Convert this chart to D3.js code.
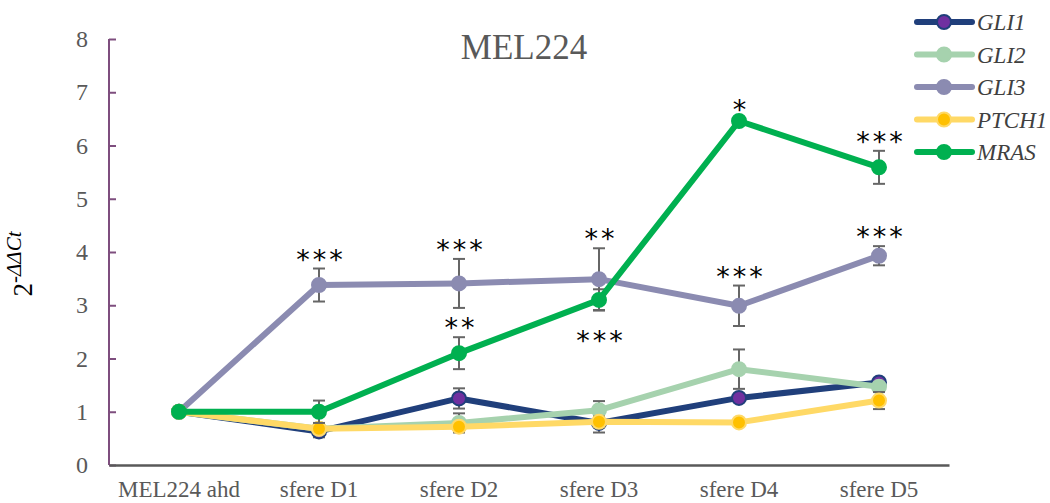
<!DOCTYPE html>
<html><head><meta charset="utf-8">
<script src="https://cdn.jsdelivr.net/npm/d3@7"></script>
<style>body{margin:0;background:#fff}svg{display:block}</style>
</head><body>
<script>
const categories = ["MEL224 ahd","sfere D1","sfere D2","sfere D3","sfere D4","sfere D5"];
const seriesNames = ["GLI1","GLI2","GLI3","PTCH1","MRAS"];
const gli1  = [1, 0.63, 1.25, 0.79, 1.26, 1.55];
const gli2  = [1, 0.68, 0.79, 1.03, 1.80, 1.47];
const gli3  = [1, 3.38, 3.41, 3.49, 2.99, 3.93];
const ptch1 = [1, 0.68, 0.72, 0.81, 0.80, 1.21];
const mras  = [1, 1.00, 2.10, 3.10, 6.46, 5.59];
const gli1Err  = [0, 0.11, 0.19, 0.18, 0.05, 0.05];
const gli2Err  = [0, 0.05, 0.18, 0.17, 0.37, 0.05];
const gli3Err  = [0, 0.31, 0.46, 0.58, 0.38, 0.18];
const ptch1Err = [0, 0.05, 0.05, 0.10, 0.03, 0.16];
const mrasErr  = [0, 0.21, 0.30, 0.20, 0.03, 0.31];
const yTicks = [0,1,2,3,4,5,6,7,8];
// significance marks: series, category index, label, side
const stars = [
  {s:"GLI3", i:1, t:"***", side:"above"},
  {s:"GLI3", i:2, t:"***", side:"above"},
  {s:"GLI3", i:3, t:"**",  side:"above"},
  {s:"GLI3", i:4, t:"***", side:"above"},
  {s:"GLI3", i:5, t:"***", side:"above"},
  {s:"MRAS", i:2, t:"**",  side:"above"},
  {s:"MRAS", i:3, t:"***", side:"below"},
  {s:"MRAS", i:4, t:"*",   side:"above"},
  {s:"MRAS", i:5, t:"***", side:"above"}
];

const styles = {
  GLI1:  {line:"#203F7B", fill:"#7030A0", stroke:"#203F7B"},
  GLI2:  {line:"#A6D2AE", fill:"#A6D2AE", stroke:"#A6D2AE"},
  GLI3:  {line:"#8B8BB1", fill:"#8B8BB1", stroke:"#8B8BB1"},
  PTCH1: {line:"#FFD966", fill:"#FFC000", stroke:"#FFD966"},
  MRAS:  {line:"#00B050", fill:"#00B050", stroke:"#00B050"}
};
const values = {GLI1:gli1, GLI2:gli2, GLI3:gli3, PTCH1:ptch1, MRAS:mras};
const errors = {GLI1:gli1Err, GLI2:gli2Err, GLI3:gli3Err, PTCH1:ptch1Err, MRAS:mrasErr};

const W = 1050, H = 503;
const svg = d3.select("body").append("svg").attr("width", W).attr("height", H);
const x = d3.scaleBand().domain(categories).range([109, 949]).padding(0);
const y = d3.scaleLinear().domain([0, 8]).range([465, 39]);
const cx = c => x(c) + x.bandwidth()/2;
const serif = "'Liberation Serif','Times New Roman',serif";

// title
svg.append("text").attr("x", 524).attr("y", 59).attr("text-anchor","middle")
  .attr("font-family", serif).attr("font-size", 35).attr("fill","#595959").text("MEL224");

// y axis
const yAxis = svg.append("g").attr("transform","translate(109,0)")
  .call(d3.axisRight(y).tickValues(yTicks).tickSize(7).tickFormat(""));
yAxis.select(".domain").attr("stroke","#7E4E7E").attr("stroke-width",2).attr("d","M0,39V465");
yAxis.selectAll(".tick line").attr("stroke","#7E4E7E").attr("stroke-width",2);
svg.selectAll(".ytl").data(yTicks).enter().append("text")
  .attr("x", 88).attr("y", d => y(d) + 8).attr("text-anchor","end")
  .attr("font-family", serif).attr("font-size", 24).attr("fill","#595959").text(d => d);

// x axis
const xAxis = svg.append("g").attr("transform","translate(0,465)")
  .call(d3.axisBottom(x).tickSize(0).tickPadding(32));
xAxis.select(".domain").attr("stroke","#595959").attr("stroke-width",2.5);
xAxis.selectAll("text").attr("dy","0").attr("font-family", serif).attr("font-size", 23).attr("fill","#595959");

// y label
const yl = svg.append("text").attr("transform","translate(32,264) rotate(-90)")
  .attr("text-anchor","middle").attr("font-family", serif).attr("fill","#000");
yl.append("tspan").attr("font-size", 27).text("2");
yl.append("tspan").attr("font-size", 21).attr("dy", -11).attr("font-style","italic").text("-ΔΔCt");

// series
seriesNames.forEach(name => {
  const vals = values[name], errs = errors[name], st = styles[name];
  const g = svg.append("g");
  const pts = categories.map((c,i) => ({c, v: vals[i], e: errs[i]}));
  // error bars
  pts.filter(p => p.e > 0).forEach(p => {
    const px = cx(p.c);
    g.append("line").attr("x1",px).attr("x2",px).attr("y1",y(p.v+p.e)).attr("y2",y(p.v-p.e))
      .attr("stroke","#666").attr("stroke-width",2);
    [p.v+p.e, p.v-p.e].forEach(vv => g.append("line").attr("x1",px-6).attr("x2",px+6)
      .attr("y1",y(vv)).attr("y2",y(vv)).attr("stroke","#666").attr("stroke-width",2));
  });
  g.append("path").datum(pts)
    .attr("d", d3.line().x(p => cx(p.c)).y(p => y(p.v)))
    .attr("fill","none").attr("stroke", st.line).attr("stroke-width",6).attr("stroke-linejoin","round");
  g.selectAll("circle").data(pts).enter().append("circle")
    .attr("cx", p => cx(p.c)).attr("cy", p => y(p.v)).attr("r", 7)
    .attr("fill", st.fill).attr("stroke", st.stroke).attr("stroke-width", 2);
});

// stars
stars.forEach(a => {
  const v = values[a.s][a.i], e = errors[a.s][a.i];
  const px = cx(categories[a.i]);
  const cy = a.side === "above" ? y(v+e) - 19 : y(v-e) + 20;
  svg.append("text").attr("x", px + 2).attr("y", cy + 19).attr("text-anchor","middle")
    .attr("font-family","'DejaVu Sans',sans-serif").attr("font-size", 27)
    .attr("letter-spacing", 3).attr("fill","#000").text(a.t);
});

// legend
const lg = svg.append("g");
seriesNames.forEach((name, k) => {
  const st = styles[name], ly = 22 + k*32.5;
  lg.append("line").attr("x1",917).attr("x2",972).attr("y1",ly).attr("y2",ly)
    .attr("stroke", st.line).attr("stroke-width",6).attr("stroke-linecap","round");
  lg.append("circle").attr("cx",944).attr("cy",ly).attr("r",7)
    .attr("fill", st.fill).attr("stroke", st.stroke).attr("stroke-width",2);
  lg.append("text").attr("x",977).attr("y",ly+8).attr("font-family", serif)
    .attr("font-style","italic").attr("font-size",23).attr("fill","#404040").text(name);
});
</script>
</body></html>
